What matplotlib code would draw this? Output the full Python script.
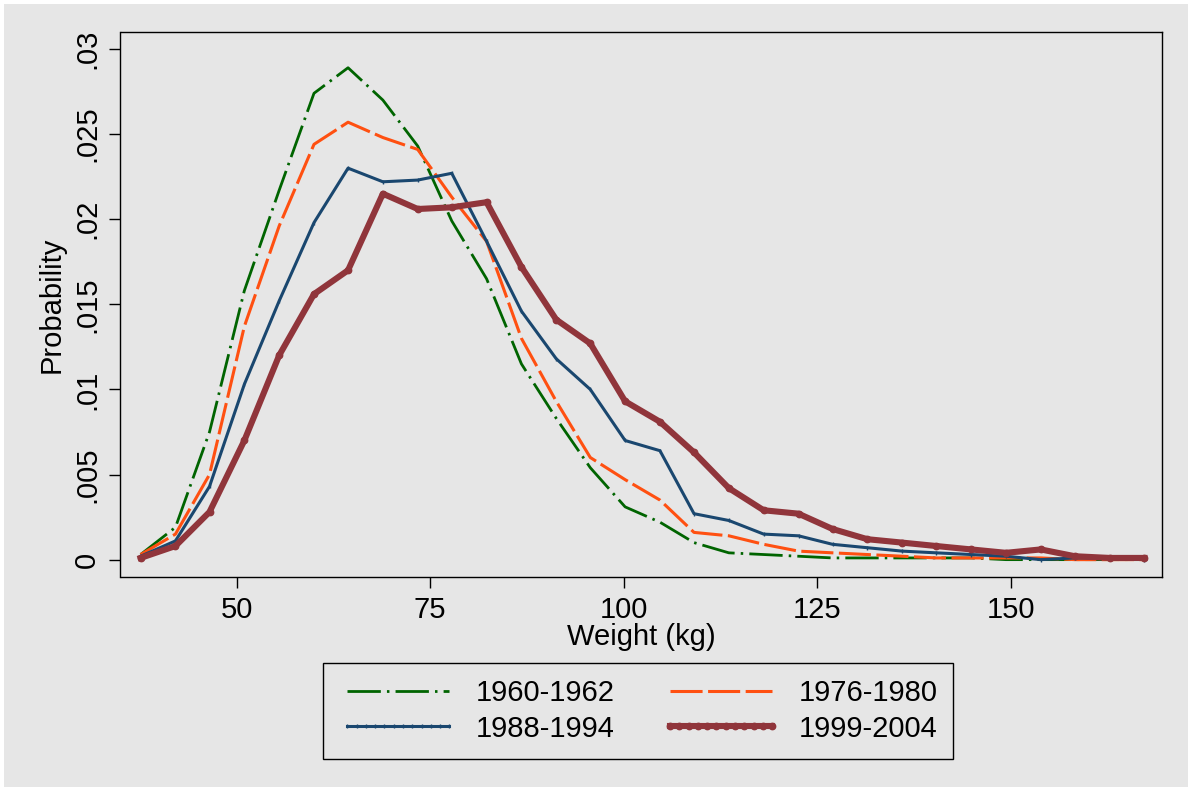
import matplotlib
matplotlib.use("Agg")
import matplotlib.pyplot as plt
from matplotlib.patches import Rectangle

# weight bins (kg)
weight = [37.6, 42.1, 46.5, 51.0, 55.5, 60.0, 64.4, 68.9, 73.4, 77.8,
          82.3, 86.8, 91.3, 95.7, 100.2, 104.7, 109.1, 113.6, 118.1, 122.6,
          127.0, 131.5, 136.0, 140.4, 144.9, 149.4, 153.9, 158.3, 162.8, 167.3]

p_1960 = [0.0003, 0.0019, 0.0075, 0.0158, 0.0217, 0.0274, 0.0289, 0.0270, 0.0243, 0.0199,
          0.0165, 0.0115, 0.0083, 0.0054, 0.0031, 0.0022, 0.0010, 0.0004, 0.0003, 0.0002,
          0.0001, 0.0001, 0.0001, 0.0001, 0.0001, 0.0000, 0.0000, 0.0000, 0.0000, 0.0000]

p_1976 = [0.0003, 0.0015, 0.0050, 0.0137, 0.0196, 0.0244, 0.0257, 0.0248, 0.0241, 0.0213,
          0.0187, 0.0130, 0.0093, 0.0060, 0.0047, 0.0035, 0.0016, 0.0014, 0.0009, 0.0005,
          0.0004, 0.0003, 0.0002, 0.0001, 0.0001, 0.0001, 0.0001, 0.0000, 0.0000, 0.0000]

p_1988 = [0.0002, 0.0011, 0.0043, 0.0103, 0.0152, 0.0198, 0.0230, 0.0222, 0.0223, 0.0227,
          0.0187, 0.0146, 0.0118, 0.0100, 0.0070, 0.0064, 0.0027, 0.0023, 0.0015, 0.0014,
          0.0009, 0.0007, 0.0005, 0.0004, 0.0003, 0.0002, 0.0000, 0.0001, 0.0001, 0.0000]

p_1999 = [0.0001, 0.0008, 0.0028, 0.0070, 0.0120, 0.0156, 0.0170, 0.0215, 0.0206, 0.0207,
          0.0210, 0.0172, 0.0141, 0.0127, 0.0093, 0.0081, 0.0063, 0.0042, 0.0029, 0.0027,
          0.0018, 0.0012, 0.0010, 0.0008, 0.0006, 0.0004, 0.0006, 0.0002, 0.0001, 0.0001]

xticks = [50, 75, 100, 125, 150]
yticks = [0, 0.005, 0.01, 0.015, 0.02, 0.025, 0.03]
ylabels = ["0", ".005", ".01", ".015", ".02", ".025", ".03"]

bg = "#e6e6e6"
plt.rcParams["font.family"] = ["Liberation Sans", "DejaVu Sans"]
fs = 21

fig = plt.figure(figsize=(11.89, 7.88), dpi=100, facecolor="white")
fig.patches.append(Rectangle((4 / 1189, 1 / 788), 1184 / 1189, 783 / 788,
                             transform=fig.transFigure, facecolor=bg,
                             edgecolor="none", zorder=-10))

ax = fig.add_axes([120.5 / 1189, 1 - 577 / 788, 1041 / 1189, 545 / 788])
ax.set_facecolor(bg)

l60, = ax.plot(weight, p_1960, color="#006400", lw=2.0, dashes=(12, 2.2, 0.9, 2.2),
               label="1960-1962")
l76, = ax.plot(weight, p_1976, color="#ff5011", lw=2.2, dashes=(10.5, 1.8),
               label="1976-1980")
l88, = ax.plot(weight, p_1988, color="#1a476f", lw=2.2, marker="|", ms=3.5, mew=1,
               label="1988-1994")
l99, = ax.plot(weight, p_1999, color="#90353b", lw=4.4, marker="o", ms=4.6,
               label="1999-2004")

ax.set_xlim(35.0, 169.5)
ax.set_ylim(-0.00102, 0.0310)
ax.set_xticks(xticks)
ax.set_yticks(yticks)
ax.set_yticklabels(ylabels, rotation=90, va="center")
ax.tick_params(axis="both", labelsize=fs, length=8, width=1, pad=6, color="black")

for s in ax.spines.values():
    s.set_linewidth(1.0)
    s.set_color("black")

ax.set_xlabel("Weight (kg)", fontsize=fs, labelpad=-1)
ax.set_ylabel("Probability", fontsize=fs, labelpad=5)

# column-wise fill, so order gives rows 1960/1976 and 1988/1999
handles = [l60, l88, l76, l99]
leg = ax.legend(handles, [h.get_label() for h in handles], loc="center", ncol=2,
                bbox_to_anchor=(638 / 1189, 1 - 711 / 788),
                bbox_transform=fig.transFigure, fontsize=fs, frameon=True,
                fancybox=False, edgecolor="black", facecolor=bg, framealpha=1,
                handlelength=4.1, handletextpad=0.6, columnspacing=1.6,
                labelspacing=0.25, numpoints=12, borderpad=0.55)
leg.get_frame().set_linewidth(1.0)

fig.savefig("out.png", dpi=100, facecolor=fig.get_facecolor())
